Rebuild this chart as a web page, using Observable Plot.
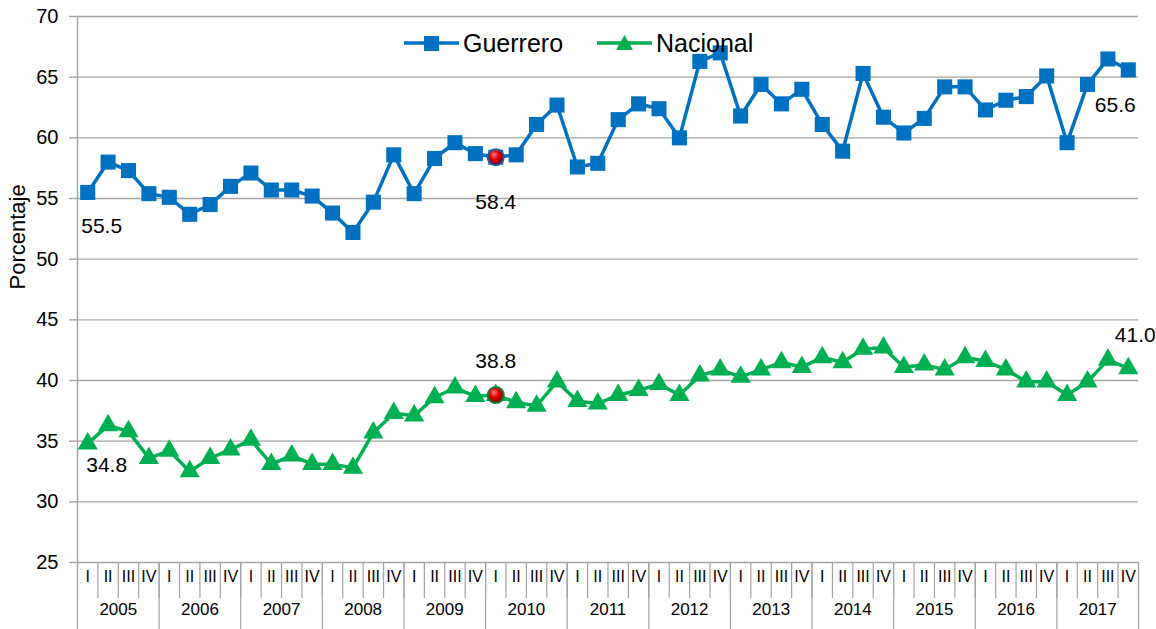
<!DOCTYPE html>
<html>
<head>
<meta charset="utf-8">
<script src="https://cdn.jsdelivr.net/npm/d3@7"></script>
<script src="https://cdn.jsdelivr.net/npm/@observablehq/plot@0.6"></script>
<style>
  body { margin: 0; background: #fff; font-family: "Liberation Sans", Arial, sans-serif; }
  #wrap { position: relative; width: 1156px; height: 629px; overflow: hidden; }
  .leg { position: absolute; top: 27px; display: flex; align-items: center; font-size: 25px; color: #000; line-height: 32px; }
  .leg svg { margin-right: 4px; }
</style>
</head>
<body>
<div id="wrap"></div>
<script>
// ---- data ----
const years = [2005, 2006, 2007, 2008, 2009, 2010, 2011, 2012, 2013, 2014, 2015, 2016, 2017];
const quarters = ["I", "II", "III", "IV"];
const guerrero = [
  55.5, 58.0, 57.3, 55.4, 55.1, 53.7, 54.5, 56.0, 57.1, 55.7, 55.7, 55.2, 53.8,
  52.2, 54.7, 58.6, 55.4, 58.3, 59.6, 58.7, 58.4, 58.6, 61.1, 62.7, 57.6, 57.9,
  61.5, 62.8, 62.4, 60.0, 66.3, 67.0, 61.8, 64.4, 62.8, 64.0, 61.1, 58.9, 65.3,
  61.7, 60.4, 61.6, 64.2, 64.2, 62.3, 63.1, 63.4, 65.1, 59.6, 64.4, 66.5, 65.6
];
const nacional = [
  34.8, 36.3, 35.8, 33.6, 34.2, 32.5, 33.6, 34.3, 35.1, 33.1, 33.8, 33.1, 33.1,
  32.8, 35.7, 37.3, 37.1, 38.6, 39.4, 38.7, 38.8, 38.2, 37.9, 39.9, 38.3, 38.1,
  38.8, 39.2, 39.7, 38.8, 40.4, 40.9, 40.3, 40.9, 41.5, 41.1, 41.9, 41.5, 42.6,
  42.7, 41.1, 41.3, 40.9, 41.9, 41.6, 40.9, 39.9, 39.9, 38.8, 39.9, 41.7, 41.0
];
const seriesNames = ["Guerrero", "Nacional"];
const yTicks = [25, 30, 35, 40, 45, 50, 55, 60, 65, 70];
const highlightIndex = 20; // 2010 I
const yLabel = "Porcentaje";

// ---- derived table ----
const rows = [];
years.forEach((yr, yi) => quarters.forEach((q, qi) => {
  const i = yi * 4 + qi;
  rows.push({ i, year: yr, q, g: guerrero[i], n: nacional[i] });
}));
const last = rows.length - 1;
const quarterBounds = rows.map(d => d.i - 0.5).concat([last + 0.5]);
const yearBounds = years.map((y, k) => k * 4 - 0.5).concat([years.length * 4 - 0.5]);
const yearRows = years.map((y, k) => ({ c: k * 4 + 1.5, label: String(y) }));

const blue = "#0070C0", green = "#00B050", grid = "#a3a3a3";
const font = "'Liberation Sans', Arial, sans-serif";

const first = rows[0], hl = rows[highlightIndex], end = rows[last];

const chart = Plot.plot({
  width: 1156,
  height: 629,
  marginLeft: 77,
  marginRight: 18,
  marginTop: 16,
  marginBottom: 67,
  style: { fontFamily: font, background: "white", color: "#000", overflow: "visible" },
  x: { type: "linear", domain: [-0.5, last + 0.5], axis: null, label: null },
  y: { domain: [25, 70], axis: null, label: null },
  marks: [
    Plot.gridY(yTicks, { stroke: grid, strokeOpacity: 1, strokeWidth: 1.4 }),
    Plot.frame({ anchor: "left", stroke: grid, strokeWidth: 1.4 }),
    Plot.axisY(yTicks, { tickSize: 8, stroke: grid, strokeWidth: 1.4, tickFormat: () => "", label: null }),
    Plot.text(yTicks, { y: d => d, frameAnchor: "left", text: d => String(d), textAnchor: "end", dx: -19, fontSize: 20 }),
    Plot.text([yLabel], { frameAnchor: "left", text: d => d, rotate: -90, dx: -60, fontSize: 22 }),
    Plot.axisX(quarterBounds, { tickSize: 36, tickFormat: () => "", stroke: grid, strokeWidth: 1.2, label: null }),
    Plot.axisX(yearBounds, { tickSize: 67, tickFormat: () => "", stroke: grid, strokeWidth: 1.2, label: null }),
    Plot.text(rows, { x: "i", frameAnchor: "bottom", text: "q", dy: 19, fontSize: 16 }),
    Plot.text(yearRows, { x: "c", frameAnchor: "bottom", text: "label", dy: 52, fontSize: 17 }),

    Plot.line(rows, { x: "i", y: "g", stroke: blue, strokeWidth: 3.5 }),
    Plot.dot(rows, { x: "i", y: "g", symbol: "square", fill: blue, r: 8.5 }),
    Plot.line(rows, { x: "i", y: "n", stroke: green, strokeWidth: 3.5 }),
    Plot.dot(rows, { x: "i", y: "n", symbol: "triangle", fill: green, r: 7.5 }),

    Plot.dot([hl], { x: "i", y: "g", r: 8, fill: "url(#redball)", stroke: "#1f5c9c", strokeWidth: 2 }),
    Plot.dot([hl], { x: "i", y: "n", r: 8, fill: "url(#redball)", stroke: "#1a7a3a", strokeWidth: 2 }),

    Plot.text([first], { x: "i", y: "g", text: d => d.g.toFixed(1), dx: 14, dy: 34, fontSize: 21 }),
    Plot.text([first], { x: "i", y: "n", text: d => d.n.toFixed(1), dx: 19, dy: 22, fontSize: 21 }),
    Plot.text([hl], { x: "i", y: "g", text: d => d.g.toFixed(1), dx: 0, dy: 45, fontSize: 21 }),
    Plot.text([hl], { x: "i", y: "n", text: d => d.n.toFixed(1), dx: 0, dy: -34, fontSize: 21 }),
    Plot.text([end], { x: "i", y: "g", text: d => d.g.toFixed(1), dx: -13, dy: 35, fontSize: 21 }),
    Plot.text([end], { x: "i", y: "n", text: d => d.n.toFixed(1), dx: 7, dy: -33, fontSize: 21 })
  ]
});

// gradient for the highlighted points
const defs = d3.select(chart).insert("defs", ":first-child");
const rg = defs.append("radialGradient").attr("id", "redball").attr("cx", "40%").attr("cy", "35%").attr("r", "65%");
rg.append("stop").attr("offset", "0%").attr("stop-color", "#ff7a7a");
rg.append("stop").attr("offset", "45%").attr("stop-color", "#e00000");
rg.append("stop").attr("offset", "100%").attr("stop-color", "#7a0000");

const wrap = document.getElementById("wrap");
wrap.appendChild(chart);

// legend (inside the plot, top center)
function legendItem(name, color, shape, left) {
  const div = document.createElement("div");
  div.className = "leg";
  div.style.left = left + "px";
  const marker = shape === "square"
    ? `<rect x="20" y="7" width="15" height="15" fill="${color}"/>`
    : `<path d="M27.5,6 L36,21 L19,21 Z" fill="${color}"/>`;
  div.innerHTML = `<svg width="55" height="28" viewBox="0 0 55 28"><line x1="0" x2="55" y1="14" y2="14" stroke="${color}" stroke-width="3.5"/>${marker}</svg><span>${name}</span>`;
  wrap.appendChild(div);
}
legendItem(seriesNames[0], blue, "square", 404);
legendItem(seriesNames[1], green, "triangle", 597);
</script>
</body>
</html>
